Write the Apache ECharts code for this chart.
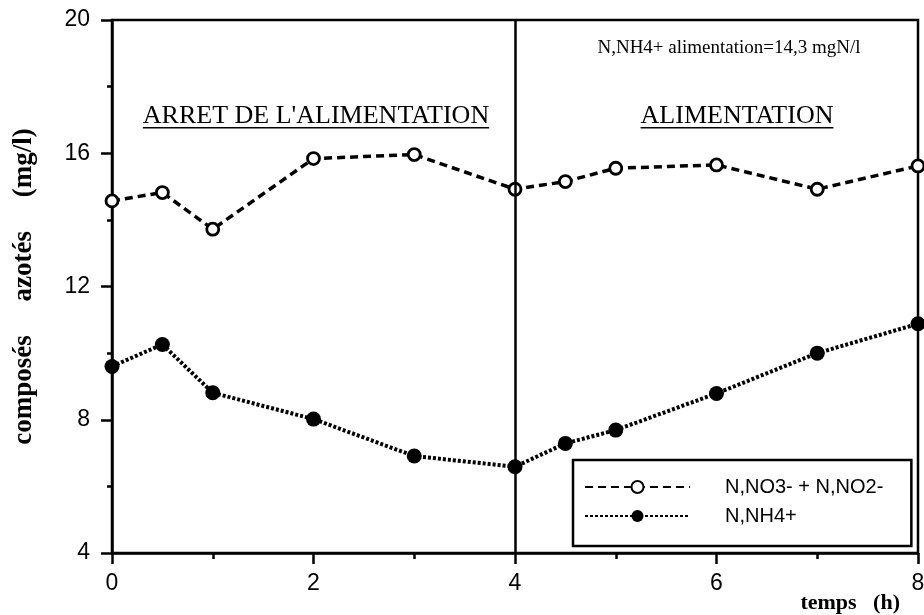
<!DOCTYPE html>
<html>
<head>
<meta charset="utf-8">
<script src="https://cdn.jsdelivr.net/npm/echarts@6/dist/echarts.min.js"></script>
<style>
  html, body { margin: 0; padding: 0; background: #fff; }
  #chart { width: 924px; height: 615px; }
</style>
</head>
<body>
<div id="chart"></div>
<script>
// ---------------- data ----------------
const hours = [0, 0.5, 1, 2, 3, 4, 4.5, 5, 6, 7, 8];
const no3no2 = [14.57, 14.82, 13.72, 15.84, 15.96, 14.92, 15.15, 15.55, 15.65, 14.92, 15.62];
const nh4 = [9.60, 10.26, 8.81, 8.02, 6.91, 6.59, 7.29, 7.69, 8.79, 10.0, 10.88];
const seriesNames = ["N,NO3- + N,NO2-", "N,NH4+"];
const feedStartHour = 4;

const SERIF = "'Liberation Serif', 'Times New Roman', serif";
const SANS = "'Liberation Sans', Arial, sans-serif";

// ---------------- helpers ----------------
function textWidth(str, font) {
    const c = document.createElement("canvas").getContext("2d");
    c.font = font;
    return c.measureText(str).width;
}

// text with a line under it (zrender has no underline)
function underlined(str, cx, cy, size) {
    const font = `${size}px ${SERIF}`;
    const w = textWidth(str, font);
    const uy = cy + size * 0.45;
    return {
        type: "group",
        children: [
            {
                type: "text",
                x: cx, y: cy,
                style: { text: str, font, fill: "#000", align: "center", verticalAlign: "middle" },
            },
            {
                type: "line",
                shape: { x1: cx - w / 2, y1: uy, x2: cx + w / 2, y2: uy },
                style: { stroke: "#000", lineWidth: 1.5 },
            },
        ],
    };
}

const chart = echarts.init(document.getElementById("chart"));

chart.setOption({
    backgroundColor: "#fff",
    animation: false,
    grid: {
        left: 112, right: 6, top: 20, bottom: 62,
        outerBoundsMode: "none",
        containLabel: false,
        show: true, borderColor: "#000", borderWidth: 2.5,
    },
    legend: {
        orient: "vertical",
        left: 573, top: 460,
        itemWidth: 105, itemHeight: 15, itemGap: 9,
        padding: [17, 28, 20, 11],
        borderColor: "#000", borderWidth: 2.5,
        textStyle: { fontSize: 20, fontFamily: SANS, color: "#000", padding: [0, 0, 0, 30] },
        data: seriesNames,
    },
    xAxis: {
        type: "value",
        min: 0, max: 8, interval: 2,
        axisLine: { lineStyle: { color: "#000", width: 2.5 } },
        axisTick: { length: 11, lineStyle: { color: "#000", width: 2.5 } },
        minorTick: { show: true, splitNumber: 2, length: 6, lineStyle: { color: "#000", width: 2.5 } },
        splitLine: { show: false },
        axisLabel: { fontSize: 23, fontFamily: SANS, color: "#000", margin: 19 },
    },
    yAxis: {
        type: "value",
        min: 4, max: 20, interval: 4,
        name: "composés     azotés     (mg/l)",
        nameLocation: "middle",
        nameGap: 74,
        nameTextStyle: { fontSize: 27, fontWeight: "bold", fontFamily: SERIF, color: "#000" },
        axisLine: { lineStyle: { color: "#000", width: 2.5 } },
        axisTick: { length: 11, lineStyle: { color: "#000", width: 2.5 } },
        minorTick: { show: true, splitNumber: 2, length: 5, lineStyle: { color: "#000", width: 2.5 } },
        splitLine: { show: false },
        axisLabel: { fontSize: 23, fontFamily: SANS, color: "#000", margin: 22 },
    },
    series: [
        {
            name: seriesNames[0],
            type: "line",
            data: hours.map((h, i) => [h, no3no2[i]]),
            symbol: "circle",
            symbolSize: 12,
            itemStyle: { color: "#fff", borderColor: "#000", borderWidth: 2.8 },
            lineStyle: { color: "#000", width: 3.5, type: [8, 5] },
            z: 3,
            markLine: {
                silent: true,
                symbol: "none",
                label: { show: false },
                lineStyle: { type: "solid", color: "#000", width: 2.5 },
                data: [{ xAxis: feedStartHour }],
            },
        },
        {
            name: seriesNames[1],
            type: "line",
            data: hours.map((h, i) => [h, nh4[i]]),
            symbol: "circle",
            symbolSize: 15,
            itemStyle: { color: "#000" },
            lineStyle: { color: "#000", width: 4, type: [3, 2] },
            z: 3,
        },
    ],
    graphic: [
        underlined("ARRET DE L'ALIMENTATION", 316, 116, 26),
        underlined("ALIMENTATION", 737, 116, 26),
        {
            type: "text",
            x: 729, y: 48,
            style: { text: "N,NH4+ alimentation=14,3 mgN/l", font: `19px ${SERIF}`, fill: "#000", align: "center", verticalAlign: "middle" },
        },
        {
            type: "text",
            x: 900, y: 603,
            style: { text: "temps   (h)", font: `bold 22px ${SERIF}`, fill: "#000", align: "right", verticalAlign: "middle" },
        },
    ],
});
</script>
</body>
</html>
